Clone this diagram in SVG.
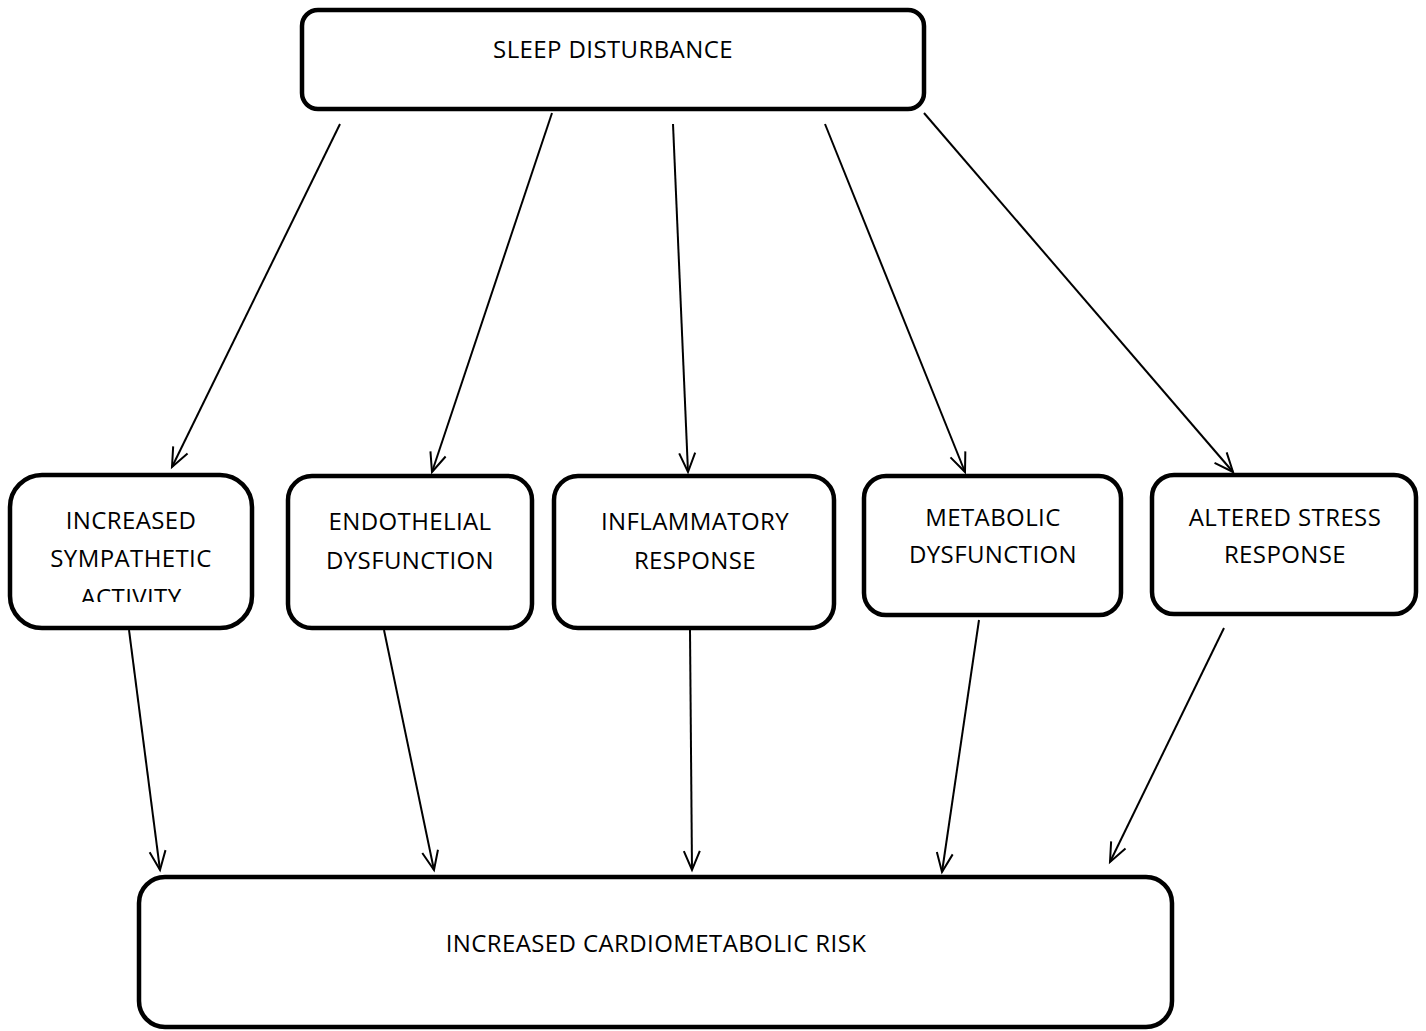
<svg xmlns="http://www.w3.org/2000/svg" width="1426" height="1031" viewBox="0 0 1426 1031">
<style>
.box{fill:#fff;stroke:#000;stroke-width:4.5}
.t{font-family:"Open Sans","Liberation Sans",sans-serif;font-size:24px;letter-spacing:0.4px;fill:#000;text-anchor:middle}
.c line{stroke:#000;stroke-width:2;marker-end:url(#ah)}
</style>
<defs>
<marker id="ah" markerUnits="userSpaceOnUse" viewBox="-22 -12 26 24" refX="0" refY="0" markerWidth="26" markerHeight="24" orient="auto" overflow="visible">
<path d="M-19,-8 L0,0 L-19,8" fill="none" stroke="#000" stroke-width="2"/>
</marker>
<clipPath id="clip1"><rect x="0" y="470" width="260" height="132"/></clipPath>
</defs>
<rect width="1426" height="1031" fill="#fff"/>
<g class="c" id="connectors">
<line x1="340" y1="124" x2="172" y2="467"/>
<line x1="552" y1="113" x2="432" y2="472"/>
<line x1="673" y1="124" x2="688" y2="472"/>
<line x1="825" y1="124" x2="965" y2="472"/>
<line x1="924" y1="113" x2="1233" y2="472"/>
<line x1="129" y1="630" x2="160" y2="870"/>
<line x1="384" y1="630" x2="434" y2="870"/>
<line x1="690" y1="630" x2="692" y2="870"/>
<line x1="979" y1="620" x2="942" y2="872"/>
<line x1="1224" y1="628" x2="1110" y2="862"/>
</g>
<g id="sleep">
<rect class="box" x="302" y="10" width="622" height="99" rx="16"/>
<text class="t" x="613" y="58">SLEEP DISTURBANCE</text>
</g>
<g id="sympathetic">
<rect class="box" x="10" y="475" width="242" height="153" rx="32"/>
<text class="t" x="131" y="529">INCREASED</text>
<text class="t" x="131" y="567">SYMPATHETIC</text>
<text class="t" x="131" y="606" clip-path="url(#clip1)">ACTIVITY</text>
</g>
<g id="endothelial">
<rect class="box" x="288" y="476" width="244" height="152" rx="24"/>
<text class="t" x="410" y="530">ENDOTHELIAL</text>
<text class="t" x="410" y="569">DYSFUNCTION</text>
</g>
<g id="inflammatory">
<rect class="box" x="554" y="476" width="280" height="152" rx="24"/>
<text class="t" x="695" y="530">INFLAMMATORY</text>
<text class="t" x="695" y="569">RESPONSE</text>
</g>
<g id="metabolic">
<rect class="box" x="864" y="476" width="257" height="139" rx="22"/>
<text class="t" x="993" y="526">METABOLIC</text>
<text class="t" x="993" y="563">DYSFUNCTION</text>
</g>
<g id="stress">
<rect class="box" x="1152" y="475" width="264" height="139" rx="22"/>
<text class="t" x="1285" y="526">ALTERED STRESS</text>
<text class="t" x="1285" y="563">RESPONSE</text>
</g>
<g id="risk">
<rect class="box" x="139" y="877" width="1033" height="150" rx="26"/>
<text class="t" x="656" y="952">INCREASED CARDIOMETABOLIC RISK</text>
</g>
</svg>
